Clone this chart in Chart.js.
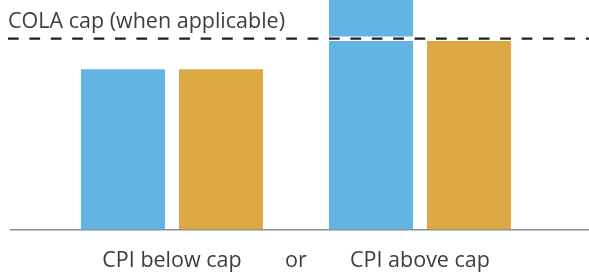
<!DOCTYPE html>
<html>
<head>
<meta charset="utf-8">
<script src="https://cdn.jsdelivr.net/npm/chart.js@4"></script>
<style>
  html, body { margin: 0; padding: 0; background: #fff; }
  #wrap { width: 589px; height: 276px; position: relative; }
</style>
</head>
<body>
<div id="wrap"><canvas id="cola-chart"></canvas></div>
<script>
// Data
const tickLabels = ['CPI below cap', 'or', 'CPI above cap']
const tickPositions = [1, 2, 3]
const groupPositions = [1, 3]
const cpiValues = [2.52, 4.0]   // blue, second bar runs past the top
const colaValues = [2.52, 3.0]  // gold
const capValue = 3.0
const capLabel = 'COLA cap (when applicable)'

const blue = '#62b4e3'
const gold = '#dba843'
const textColor = '#3d3d3d'
const fontFamily = '"Open Sans", sans-serif'

const toPoints = (values) => values.map((v, i) => ({ x: groupPositions[i], y: v }))

// Draws the dashed cap line (with a white halo) and its label
const capLinePlugin = {
  id: 'capLine',
  afterDatasetsDraw(chart) {
    const ctx = chart.ctx
    const y = chart.scales.y.getPixelForValue(capValue)
    const x0 = 8
    const x1 = chart.width
    ctx.save()
    ctx.strokeStyle = '#ffffff'
    ctx.lineWidth = 4.5
    ctx.beginPath()
    ctx.moveTo(x0, y)
    ctx.lineTo(x1, y)
    ctx.stroke()

    ctx.strokeStyle = '#231f20'
    ctx.lineWidth = 2.3
    ctx.setLineDash([10.7, 10.7])
    ctx.beginPath()
    ctx.moveTo(x0, y)
    ctx.lineTo(x1, y)
    ctx.stroke()
    ctx.setLineDash([])

    ctx.fillStyle = textColor
    ctx.font = `21.5px ${fontFamily}`
    ctx.textBaseline = 'alphabetic'
    ctx.textAlign = 'left'
    ctx.fillText(capLabel, 8, y - 10.8)
    ctx.restore()
  }
}

const config = {
  type: 'bar',
  data: {
    datasets: [
      { label: 'CPI', data: toPoints(cpiValues), backgroundColor: blue },
      { label: 'COLA', data: toPoints(colaValues), backgroundColor: gold }
    ]
  },
  options: {
    responsive: false,
    animation: false,
    events: [],
    // ruler uses tick spacing (1 unit), groups are ~1.58 units wide
    categoryPercentage: 1.5806,
    barPercentage: 0.857,
    layout: { padding: { left: 11, right: 0, top: 0, bottom: 0 } },
    scales: {
      x: {
        type: 'linear',
        offset: false,
        min: -0.298,
        max: 4.363,
        grid: { display: false, drawTicks: false },
        border: { display: true, color: '#8c8c8c', width: 1.5 },
        afterBuildTicks: (scale) => {
          scale.ticks = tickPositions.map(v => ({ value: v }))
        },
        afterFit: (scale) => {
          scale.height = 46.5
        },
        ticks: {
          autoSkip: false,
          maxRotation: 0,
          padding: 18,
          color: textColor,
          font: { family: fontFamily, size: 21.5 },
          callback: (value, index) => tickLabels[index]
        }
      },
      y: {
        display: false,
        min: 0,
        max: 3.608
      }
    },
    plugins: {
      legend: { display: false },
      tooltip: { enabled: false }
    }
  },
  plugins: [capLinePlugin]
}

const canvas = document.getElementById('cola-chart')
canvas.width = 589
canvas.height = 276
new Chart(canvas, config)
</script>
</body>
</html>
